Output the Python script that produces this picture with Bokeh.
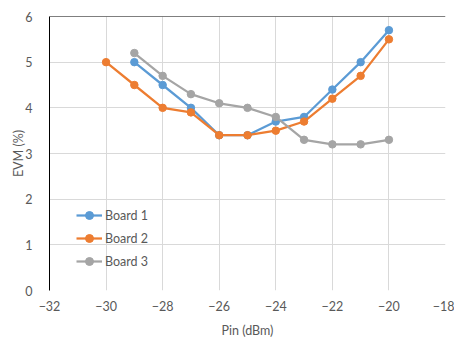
from bokeh.plotting import figure
from bokeh.models import Range1d, Span, Legend, LegendItem, SingleIntervalTicker
from bokeh.embed import file_html
from bokeh.resources import INLINE

x_b1 = [-29, -28, -27, -26, -25, -24, -23, -22, -21, -20]
y_b1 = [5.0, 4.5, 4.0, 3.4, 3.4, 3.7, 3.8, 4.4, 5.0, 5.7]
x_b2 = [-30, -29, -28, -27, -26, -25, -24, -23, -22, -21, -20]
y_b2 = [5.0, 4.5, 4.0, 3.9, 3.4, 3.4, 3.5, 3.7, 4.2, 4.7, 5.5]
x_b3 = [-29, -28, -27, -26, -25, -24, -23, -22, -21, -20]
y_b3 = [5.2, 4.7, 4.3, 4.1, 4.0, 3.8, 3.3, 3.2, 3.2, 3.3]
names = ["Board 1", "Board 2", "Board 3"]
colors = ["#5B9BD5", "#ED7D31", "#A5A5A5"]

FONT = "Lato"
TXT = "#595959"

p = figure(width=454, height=340, output_backend="svg", toolbar_location=None,
           x_range=Range1d(-32, -18), y_range=Range1d(0, 6),
           min_border_left=49, min_border_right=9, min_border_top=16, min_border_bottom=47)
p.outline_line_color = None
p.background_fill_color = "white"
p.border_fill_color = "white"

p.xaxis.ticker = SingleIntervalTicker(interval=2)
p.yaxis.ticker = SingleIntervalTicker(interval=1)
for ax in (p.xaxis[0], p.yaxis[0]):
    ax.major_tick_line_color = None
    ax.minor_tick_line_color = None
    ax.major_label_text_font = FONT
    ax.major_label_text_font_size = "12.5px"
    ax.major_label_text_color = TXT
    ax.axis_label_text_font = FONT
    ax.axis_label_text_font_size = "12.5px"
    ax.axis_label_text_color = TXT
    ax.axis_label_text_font_style = "normal"
p.xaxis.axis_line_color = None
p.yaxis.axis_line_color = "black"
p.yaxis.axis_line_width = 1
p.xaxis.axis_label = "Pin (dBm)"
p.yaxis.axis_label = "EVM (%)"
p.xaxis.major_label_standoff = 4
p.yaxis.major_label_standoff = 11
p.xaxis.axis_label_standoff = 9
p.yaxis.axis_label_standoff = -4
p.grid.grid_line_color = "#D9D9D9"
p.grid.grid_line_width = 1

p.add_layout(Span(location=6, dimension="width", line_color="black", line_width=1))

items = []
for xs, ys, name, c in zip([x_b1, x_b2, x_b3], [y_b1, y_b2, y_b3], names, colors):
    l = p.line(xs, ys, line_color=c, line_width=2.25)
    s = p.scatter(xs, ys, size=7.5, fill_color=c, line_color=c)
    items.append(LegendItem(label=name, renderers=[l, s]))

legend = Legend(items=items, location=(27, 19), padding=0, margin=0,
                border_line_color=None, background_fill_alpha=0,
                glyph_width=26, glyph_height=20, label_height=20, spacing=3,
                label_standoff=3, label_text_font=FONT, label_text_font_size="12.5px",
                label_text_color=TXT)
p.add_layout(legend)

open("out.html", "w").write(file_html(p, INLINE))
